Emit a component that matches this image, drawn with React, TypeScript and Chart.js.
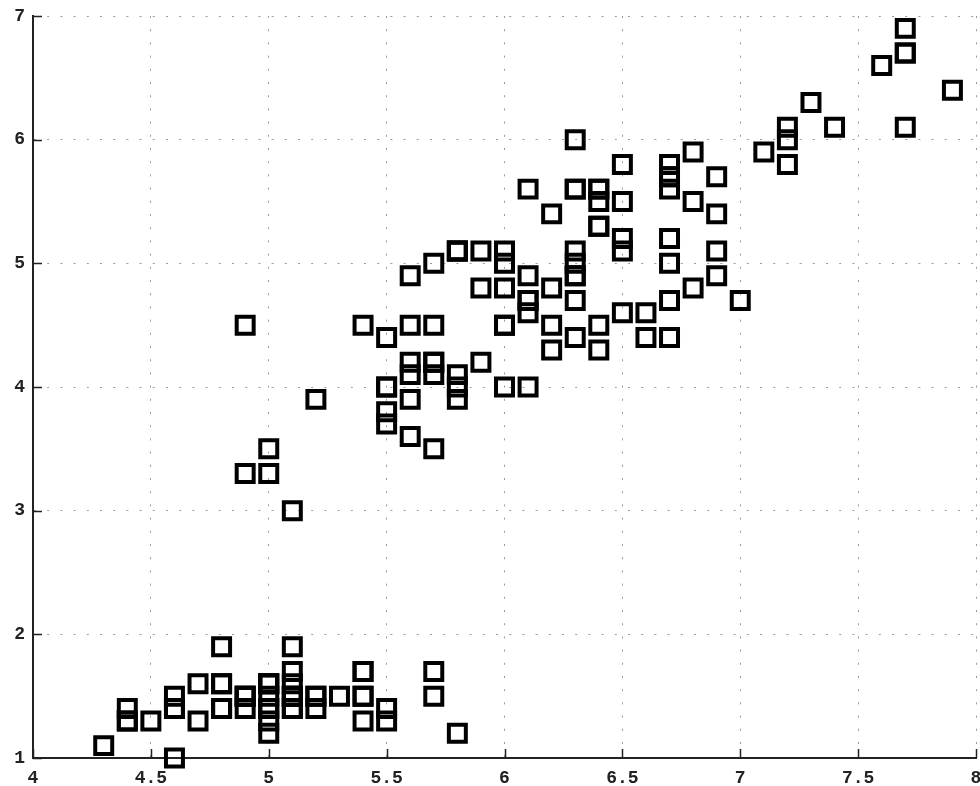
import { useEffect, useRef } from 'react';
import { Chart, registerables } from 'chart.js';

Chart.register(...registerables);

// Iris data: sepal length (x) vs petal length (y)
const sepalLength = [
  5.1, 4.9, 4.7, 4.6, 5.0, 5.4, 4.6, 5.0, 4.4, 4.9, 5.4, 4.8, 4.8, 4.3, 5.8, 5.7, 5.4, 5.1, 5.7, 5.1, 5.4, 5.1, 4.6, 5.1, 4.8,
  5.0, 5.0, 5.2, 5.2, 4.7, 4.8, 5.4, 5.2, 5.5, 4.9, 5.0, 5.5, 4.9, 4.4, 5.1, 5.0, 4.5, 4.4, 5.0, 5.1, 4.8, 5.1, 4.6, 5.3, 5.0,
  7.0, 6.4, 6.9, 5.5, 6.5, 5.7, 6.3, 4.9, 6.6, 5.2, 5.0, 5.9, 6.0, 6.1, 5.6, 6.7, 5.6, 5.8, 6.2, 5.6, 5.9, 6.1, 6.3, 6.1, 6.4,
  6.6, 6.8, 6.7, 6.0, 5.7, 5.5, 5.5, 5.8, 6.0, 5.4, 6.0, 6.7, 6.3, 5.6, 5.5, 5.5, 6.1, 5.8, 5.0, 5.6, 5.7, 5.7, 6.2, 5.1, 5.7,
  6.3, 5.8, 7.1, 6.3, 6.5, 7.6, 4.9, 7.3, 6.7, 7.2, 6.5, 6.4, 6.8, 5.7, 5.8, 6.4, 6.5, 7.7, 7.7, 6.0, 6.9, 5.6, 7.7, 6.3, 6.7,
  7.2, 6.2, 6.1, 6.4, 7.2, 7.4, 7.9, 6.4, 6.3, 6.1, 7.7, 6.3, 6.4, 6.0, 6.9, 6.7, 6.9, 5.8, 6.8, 6.7, 6.7, 6.3, 6.5, 6.2, 5.9,
];

const petalLength = [
  1.4, 1.4, 1.3, 1.5, 1.4, 1.7, 1.4, 1.5, 1.4, 1.5, 1.5, 1.6, 1.4, 1.1, 1.2, 1.5, 1.3, 1.4, 1.7, 1.5, 1.7, 1.5, 1.0, 1.7, 1.9,
  1.6, 1.6, 1.5, 1.4, 1.6, 1.6, 1.5, 1.5, 1.4, 1.5, 1.2, 1.3, 1.5, 1.3, 1.5, 1.3, 1.3, 1.3, 1.6, 1.9, 1.4, 1.6, 1.4, 1.5, 1.4,
  4.7, 4.5, 4.9, 4.0, 4.6, 4.5, 4.7, 3.3, 4.6, 3.9, 3.5, 4.2, 4.0, 4.7, 3.6, 4.4, 4.5, 4.1, 4.5, 3.9, 4.8, 4.0, 4.9, 4.7, 4.3,
  4.4, 4.8, 5.0, 4.5, 3.5, 3.8, 3.7, 3.9, 5.1, 4.5, 4.5, 4.7, 4.4, 4.1, 4.0, 4.4, 4.6, 4.0, 3.3, 4.2, 4.2, 4.2, 4.3, 3.0, 4.1,
  6.0, 5.1, 5.9, 5.6, 5.8, 6.6, 4.5, 6.3, 5.8, 6.1, 5.1, 5.3, 5.5, 5.0, 5.1, 5.3, 5.5, 6.7, 6.9, 5.0, 5.7, 4.9, 6.7, 4.9, 5.7,
  6.0, 4.8, 4.9, 5.6, 5.8, 6.1, 6.4, 5.6, 5.1, 5.6, 6.1, 5.6, 5.5, 4.8, 5.4, 5.6, 5.1, 5.1, 5.9, 5.7, 5.2, 5.0, 5.2, 5.4, 5.1,
];

const xTicks = [4, 4.5, 5, 5.5, 6, 6.5, 7, 7.5, 8];
const xTickLabels = ['4', '4.5', '5', '5.5', '6', '6.5', '7', '7.5', '8'];
const yTicks = [1, 2, 3, 4, 5, 6, 7];
const yTickLabels = ['1', '2', '3', '4', '5', '6', '7'];

const AXIS_COLOR = '#222';
const GRID_COLOR = '#9a9a9a';
const TICK_FONT = { family: '"Liberation Mono", "DejaVu Sans Mono", monospace', size: 18, weight: 'bold' as const };

export default function App() {
  const ref = useRef<HTMLCanvasElement>(null);

  useEffect(() => {
    document.body.style.margin = '0';
    if (!ref.current) return;

    const innerTicks = {
      id: 'innerTicks',
      beforeDatasetsDraw(chart: any) {
        const { ctx, chartArea: a, scales } = chart;
        const xs = scales.x;
        const ys = scales.y;
        ctx.save();
        ctx.strokeStyle = AXIS_COLOR;
        ctx.lineWidth = 1.5;
        ctx.beginPath();
        xTicks.forEach((v) => {
          const px = Math.round(xs.getPixelForValue(v)) + 0.5;
          ctx.moveTo(px, a.bottom);
          ctx.lineTo(px, a.bottom - 9);
        });
        yTicks.forEach((v) => {
          const py = Math.round(ys.getPixelForValue(v)) + 0.5;
          ctx.moveTo(a.left, py);
          ctx.lineTo(a.left + 9, py);
        });
        ctx.stroke();
        ctx.restore();
      },
    };

    const chart = new Chart(ref.current, {
      type: 'scatter',
      data: {
        datasets: [
          {
            data: sepalLength.map((x, i) => ({ x, y: petalLength[i] })),
            pointStyle: 'rect',
            pointRadius: 12,
            pointHoverRadius: 12,
            borderColor: '#000',
            backgroundColor: 'rgba(0,0,0,0)',
            borderWidth: 4,
            clip: false,
          },
        ],
      },
      options: {
        animation: false,
        responsive: false,
        devicePixelRatio: 1,
        events: [],
        layout: { autoPadding: false, padding: { top: 16, right: 4, left: 0, bottom: 0 } },
        plugins: { legend: { display: false }, tooltip: { enabled: false } },
        scales: {
          x: {
            type: 'linear',
            min: 4,
            max: 8,
            afterBuildTicks: (scale: any) => {
              scale.ticks = xTicks.map((value) => ({ value }));
            },
            afterFit: (scale: any) => {
              scale.height = 28;
              scale.paddingLeft = 0;
              scale.paddingRight = 0;
            },
            ticks: {
              autoSkip: false,
              maxRotation: 0,
              padding: 10,
              color: AXIS_COLOR,
              font: TICK_FONT,
              callback: (_v: any, i: number) => xTickLabels[i],
            },
            grid: { color: GRID_COLOR, lineWidth: 1, drawTicks: false },
            border: { display: true, color: AXIS_COLOR, width: 2, dash: [2, 11.2] },
          },
          y: {
            type: 'linear',
            min: 1,
            max: 7,
            afterBuildTicks: (scale: any) => {
              scale.ticks = yTicks.map((value) => ({ value }));
            },
            afterFit: (scale: any) => {
              scale.width = 33;
              scale.paddingTop = 0;
              scale.paddingBottom = 0;
            },
            ticks: {
              autoSkip: false,
              padding: 8,
              color: AXIS_COLOR,
              font: TICK_FONT,
              callback: (_v: any, i: number) => yTickLabels[i],
            },
            grid: { color: GRID_COLOR, lineWidth: 1, drawTicks: false },
            border: { display: true, color: AXIS_COLOR, width: 2, dash: [2, 11.2] },
          },
        },
      },
      plugins: [innerTicks],
    } as any);

    return () => chart.destroy();
  }, []);

  return (
    <div style={{ position: 'absolute', left: 0, top: 0, width: 980, height: 786, background: '#fff' }}>
      <canvas ref={ref} width={980} height={786} style={{ display: 'block' }} />
    </div>
  );
}
